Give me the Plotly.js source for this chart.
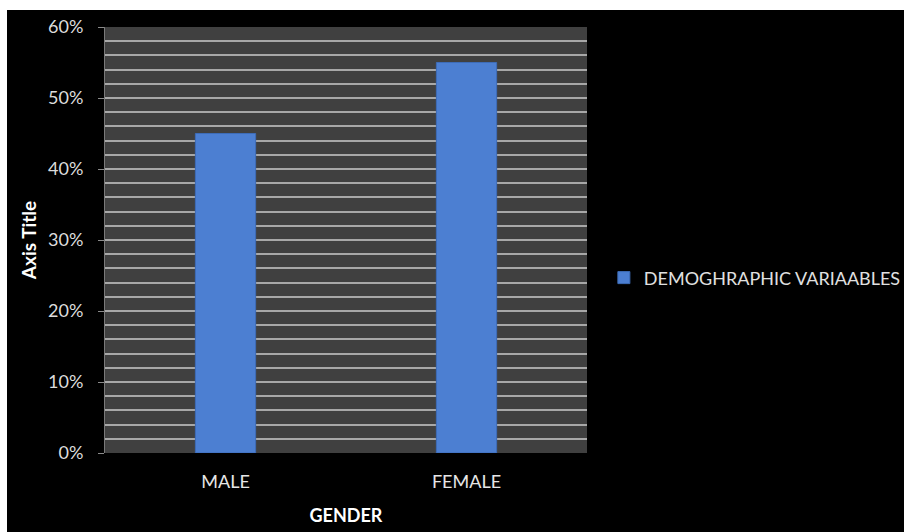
<!DOCTYPE html>
<html>
<head>
<meta charset="utf-8">
<script src="https://cdn.plot.ly/plotly-3.0.1.min.js"></script>
<style>
  html, body { margin: 0; padding: 0; background: #ffffff; width: 904px; height: 532px; overflow: hidden; }
  #chart { position: absolute; left: 7px; top: 10px; width: 960px; height: 522px; background: #000; }
</style>
</head>
<body>
<div id="chart"></div>
<script>
const categories = ["MALE", "FEMALE"];
const values = [0.45, 0.55];
const seriesName = "DEMOGHRAPHIC VARIAABLES";
const yTickVals = [0, 0.1, 0.2, 0.3, 0.4, 0.5, 0.6];
const yTickText = ["0%", "10%", "20%", "30%", "40%", "50%", "60%"];

const trace = {
  type: "bar",
  x: categories,
  y: values,
  name: seriesName,
  showlegend: true,
  marker: { color: "#4c7fd2", line: { color: "#3d6cb8", width: 1 } },
  hoverinfo: "skip"
};

const fontFam = "Lato, 'Open Sans', sans-serif";

const layout = {
  width: 960,
  height: 522,
  paper_bgcolor: "#000000",
  plot_bgcolor: "#404040",
  margin: { l: 98, r: 380, t: 17, b: 79 },
  bargap: 0.75,
  showlegend: true,
  legend: {
    x: 1.035, y: 0.411, xanchor: "left", yanchor: "middle",
    font: { family: fontFam, size: 18, color: "#e0e0e0" },
    bgcolor: "rgba(0,0,0,0)",
    itemwidth: 30
  },
  xaxis: {
    type: "category",
    showgrid: false,
    zeroline: false,
    showline: false,
    ticks: "outside",
    ticklen: 12,
    tickcolor: "rgba(0,0,0,0)",
    tickfont: { family: fontFam, size: 18, color: "#e6e6e6" },
    title: { text: "<b>GENDER</b>", font: { family: fontFam, size: 18, color: "#ffffff" }, standoff: 18 }
  },
  yaxis: {
    range: [0, 0.6],
    tickvals: yTickVals,
    ticktext: yTickText,
    showgrid: true,
    gridcolor: "#a8a8a8",
    gridwidth: 2,
    zeroline: false,
    showline: true,
    linecolor: "#7a7a7a",
    linewidth: 1,
    ticks: "outside",
    ticklen: 6,
    tickcolor: "#8a8a8a",
    ticklabelstandoff: 11,
    tickfont: { family: fontFam, size: 18, color: "#dcdcdc" },
    minor: { dtick: 0.02, showgrid: true, gridcolor: "#a8a8a8", gridwidth: 2, ticks: "" },
    title: { text: "<b>Axis Title</b>", font: { family: fontFam, size: 19, color: "#ffffff" }, standoff: 6 }
  }
};

Plotly.newPlot("chart", [trace], layout, { displayModeBar: false, staticPlot: true });
</script>
</body>
</html>
